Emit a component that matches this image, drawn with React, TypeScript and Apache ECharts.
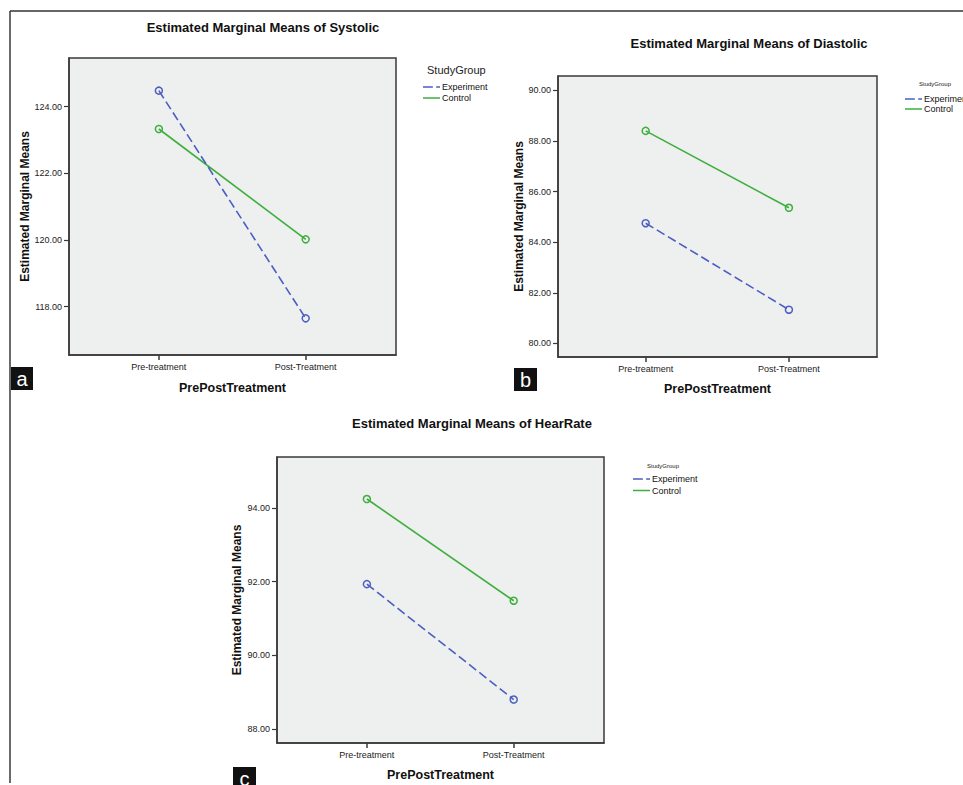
import React, { useEffect, useRef } from 'react';
import * as echarts from 'echarts';

const categories = ['Pre-treatment', 'Post-Treatment'];
const groupNames = ['Experiment', 'Control'];

const systolicExperiment = [124.48, 117.65];
const systolicControl = [123.33, 120.02];
const diastolicExperiment = [84.75, 81.33];
const diastolicControl = [88.4, 85.36];
const heartRateExperiment = [91.93, 88.8];
const heartRateControl = [94.24, 91.48];

const systolicTicks = [118, 120, 122, 124];
const diastolicTicks = [80, 82, 84, 86, 88, 90];
const heartRateTicks = [88, 90, 92, 94];

const systolicRange = [116.55, 125.46];
const diastolicRange = [79.46, 90.57];
const heartRateRange = [87.62, 95.38];

const categoryIndexes = [0, 1];
const categoryRange = [-0.612, 1.615];

const panelTitles = [
  'Estimated Marginal Means of Systolic',
  'Estimated Marginal Means of Diastolic',
  'Estimated Marginal Means of HearRate',
];
const panelLetters = ['a', 'b', 'c'];
const legendTitle = 'StudyGroup';
const yAxisTitle = 'Estimated Marginal Means';
const xAxisTitle = 'PrePostTreatment';

const BLUE = '#4b5fc2';
const GREEN = '#3caf3c';
const FONT = '"Liberation Sans", Arial, sans-serif';

const panels = [
  {
    exp: systolicExperiment, ctl: systolicControl, ticks: systolicTicks, range: systolicRange,
    grid: { left: 69, top: 58, width: 327, height: 297 }, yGap: 38, xGap: 26,
    title: { x: 263, y: 27 }, legend: { left: 423, top: 82, gap: 1 },
    legendTitle: { x: 427, y: 70, size: 11 }, letter: { x: 11, y: 367, w: 22, h: 23 },
  },
  {
    exp: diastolicExperiment, ctl: diastolicControl, ticks: diastolicTicks, range: diastolicRange,
    grid: { left: 558, top: 76, width: 319, height: 281 }, yGap: 32, xGap: 25,
    title: { x: 749, y: 43 }, legend: { left: 905, top: 94, gap: 0 },
    legendTitle: { x: 919, y: 84, size: 6 }, letter: { x: 514, y: 368, w: 23, h: 23 },
  },
  {
    exp: heartRateExperiment, ctl: heartRateControl, ticks: heartRateTicks, range: heartRateRange,
    grid: { left: 277, top: 457, width: 327, height: 286 }, yGap: 34, xGap: 25,
    title: { x: 472, y: 423 }, legend: { left: 633, top: 474, gap: 1.5 },
    legendTitle: { x: 647, y: 466, size: 6 }, letter: { x: 233, y: 767, w: 23, h: 23 },
  },
];

const DASH_ICON = 'path://M0,0H9V1.5H0Z M12,0H15.5V1.5H12Z';
const SOLID_ICON = 'path://M0,0H17V1.5H0Z';

export default function App() {
  const ref = useRef<HTMLDivElement>(null);
  useEffect(() => {
    if (!ref.current) return;
    const chart = echarts.init(ref.current, null, { renderer: 'svg' });

    const grid: any[] = [];
    const xAxis: any[] = [];
    const yAxis: any[] = [];
    const series: any[] = [];
    const legend: any[] = [];
    const graphic: any[] = [
      { type: 'line', shape: { x1: 10, y1: 783, x2: 10, y2: 11 }, style: { stroke: '#6a6a6a', lineWidth: 2 } },
      { type: 'line', shape: { x1: 10, y1: 11, x2: 963, y2: 11 }, style: { stroke: '#333', lineWidth: 1.5 } },
    ];

    panels.forEach((p, i) => {
      grid.push({
        ...p.grid, show: true, backgroundColor: '#eeefef', borderColor: '#3a3a3a', borderWidth: 1.5,
        containLabel: false,
      });
      xAxis.push({
        type: 'value', gridIndex: i, min: categoryRange[0], max: categoryRange[1],
        name: xAxisTitle, nameLocation: 'middle', nameGap: p.xGap,
        nameTextStyle: { fontFamily: FONT, fontSize: 12.5, fontWeight: 'bold', color: '#111' },
        axisLine: { show: true, onZero: false, lineStyle: { color: '#3a3a3a', width: 1.5 } },
        axisTick: { show: true, length: 5, customValues: categoryIndexes, lineStyle: { color: '#3a3a3a', width: 1.5 } },
        axisLabel: {
          customValues: categoryIndexes, margin: 7, fontFamily: FONT, fontSize: 9, color: '#222',
          formatter: (v: number) => categories[Math.round(v)] ?? '',
        },
        splitLine: { show: false },
      });
      yAxis.push({
        type: 'value', gridIndex: i, min: p.range[0], max: p.range[1],
        name: yAxisTitle, nameLocation: 'middle', nameGap: p.yGap,
        nameTextStyle: { fontFamily: FONT, fontSize: 12, fontWeight: 'bold', color: '#111' },
        axisLine: { show: true, onZero: false, lineStyle: { color: '#3a3a3a', width: 1.5 } },
        axisTick: { show: true, length: 5, customValues: p.ticks, lineStyle: { color: '#3a3a3a', width: 1.2 } },
        axisLabel: {
          customValues: p.ticks, margin: 7, fontFamily: FONT, fontSize: 9, color: '#222',
          formatter: (v: number) => v.toFixed(2),
        },
        splitLine: { show: false },
      });
      const mk = (name: string, vals: number[], color: string, dashed: boolean) => ({
        type: 'line', name, xAxisIndex: i, yAxisIndex: i,
        data: vals.map((v, j) => [categoryIndexes[j], v]),
        symbol: 'circle', symbolSize: 7,
        itemStyle: { color: 'rgba(0,0,0,0)', borderColor: color, borderWidth: 1.5 },
        lineStyle: { color, width: 1.6, type: dashed ? [9, 4] : 'solid' },
        emphasis: { disabled: true }, silent: true, z: dashed ? 3 : 2,
      });
      series.push(mk(groupNames[0], p.exp, BLUE, true));
      series.push(mk(groupNames[1], p.ctl, GREEN, false));
      legend.push({
        left: p.legend.left, top: p.legend.top, orient: 'vertical', padding: 0,
        itemGap: p.legend.gap, itemWidth: 17, itemHeight: 2, selectedMode: false,
        itemStyle: { borderWidth: 0 },
        textStyle: { fontFamily: FONT, fontSize: 9, color: '#111', lineHeight: 10, padding: [0, 0, 0, -3] },
        data: [
          { name: groupNames[0], icon: DASH_ICON, itemStyle: { color: BLUE, borderWidth: 0 } },
          { name: groupNames[1], icon: SOLID_ICON, itemStyle: { color: GREEN, borderWidth: 0 } },
        ],
      });
      graphic.push({
        type: 'text', x: p.title.x, y: p.title.y,
        style: { text: panelTitles[i], fontFamily: FONT, fontSize: 13, fontWeight: 'bold', fill: '#111', align: 'center', verticalAlign: 'middle' },
      });
      graphic.push({
        type: 'text', x: p.legendTitle.x, y: p.legendTitle.y,
        style: { text: legendTitle, fontFamily: FONT, fontSize: p.legendTitle.size, fill: '#222', align: 'left', verticalAlign: 'middle' },
      });
      graphic.push({
        type: 'group', x: p.letter.x, y: p.letter.y,
        children: [
          { type: 'rect', shape: { x: 0, y: 0, width: p.letter.w, height: p.letter.h }, style: { fill: '#111' } },
          {
            type: 'text', x: p.letter.w / 2, y: p.letter.h / 2 + 0.5,
            style: { text: panelLetters[i], fontFamily: FONT, fontSize: 20, fill: '#fff', align: 'center', verticalAlign: 'middle' },
          },
        ],
      });
    });

    chart.setOption({
      animation: false,
      backgroundColor: '#fff',
      grid, xAxis, yAxis, series, legend, graphic,
    });
    return () => chart.dispose();
  }, []);
  return <div ref={ref} style={{ position: 'fixed', left: 0, top: 0, width: 963, height: 785 }} />;
}
